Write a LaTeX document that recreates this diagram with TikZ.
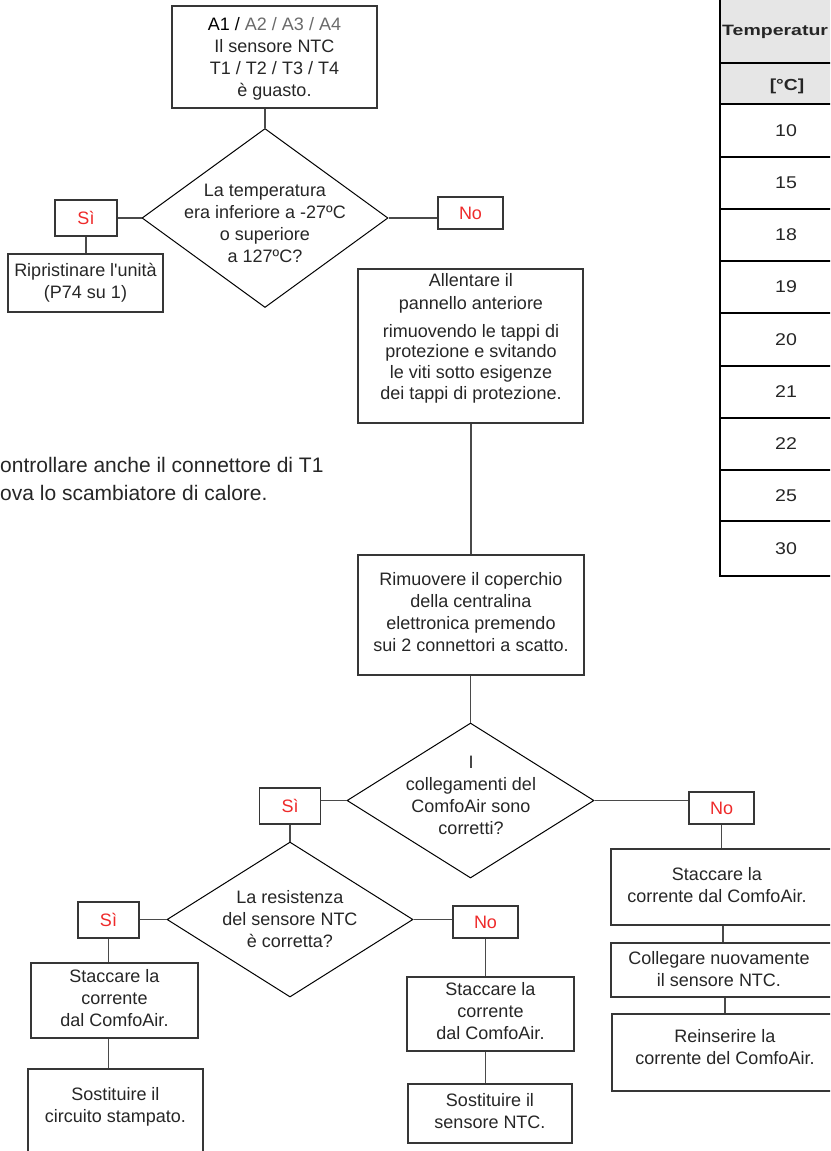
\documentclass[tikz,border=0pt]{standalone}
\usepackage{fontspec}
\usepackage{graphicx}
\setmainfont{Liberation Sans}[Ligatures=TeXOff]
\usetikzlibrary{shapes.geometric}
\definecolor{ink}{HTML}{262626}
\definecolor{edge}{HTML}{363636}
\definecolor{wirec}{HTML}{4A4A4A}
\definecolor{answer}{HTML}{EE2A2A}
\definecolor{codegray}{HTML}{6A6A6A}
\definecolor{headfill}{HTML}{E6E6E6}

\begin{document}
\begin{tikzpicture}[x=1pt,y=-1pt,
  txt/.style={font=\fontsize{18}{22}\selectfont, text=ink, align=center, inner sep=0pt},
  box/.style={draw=edge, line width=1.4pt, inner sep=0pt},
  choice/.style={diamond, draw=black, line width=1pt, inner sep=0pt},
  tag/.style={box, font=\fontsize{18}{22}\selectfont, text=answer},
  wire/.style={draw=wirec, line width=1.3pt},
  tabrule/.style={draw=black, line width=1.8pt},
  cell/.style={font=\fontsize{17}{20}\selectfont, text=ink, inner sep=0pt}]
\useasboundingbox (0,0) rectangle (830,1151);
\clip (0,0) rectangle (830,1151);

% ---------- resistance table (right) ----------
\fill[headfill] (720,0) rectangle (835,104);
\foreach \yy in {63,104,157,209,261,313,366,418,470,521}
  \draw[tabrule] (720,\yy) -- (835,\yy);
\draw[tabrule, line width=2.2pt] (720,0) -- (720,576) -- (835,576);
\node[cell, anchor=west, font=\fontsize{15}{18}\selectfont\bfseries] (thead) at (722,32) {\scalebox{1.3}[1]{Temperatur}};
\node[cell, font=\fontsize{16}{20}\selectfont\bfseries] (tunit) at (787,86) {\scalebox{1.2}[1]{[°C]}};
\foreach \v/\yy [count=\i] in {10/131,15/183,18/235,19/287,20/340,21/392,22/444,25/496,30/549}
  \node[cell] (tv\i) at (786,\yy) {\scalebox{1.15}[1]{\v}};

% ---------- side note ----------
\node[txt, font=\fontsize{21}{28}\selectfont, align=left, anchor=west] (note) at (0,479)
  {ontrollare anche il connettore di T1\\ova lo scambiatore di calore.};

% ---------- first stage ----------
\node[box, minimum width=205pt, minimum height=102pt] (fault) at (274.5,57) {};
\node[txt] (faultt) at (274.5,58.5)
  {{\color{black}A1 /} {\color{codegray}A2 / A3 / A4}\\Il sensore NTC\\T1 / T2 / T3 / T4\\è guasto.};

\node[choice, minimum width=246pt, minimum height=179pt] (range) at (265,218) {};
\node[txt] (ranget) at (265,223.5)
  {La temperatura\\era inferiore a -27ºC\\o superiore\\a 127ºC?};

\node[tag, minimum width=62pt, minimum height=36pt] (yes1) at (86,218) {Sì};
\node[tag, minimum width=65pt, minimum height=32pt] (no1) at (470.5,213) {No};
\node[box, txt, draw=edge, minimum width=155pt, minimum height=58pt] (reset) at (85.5,283)
  {Ripristinare l'unità\\(P74 su 1)};

\draw[wire] (range.north) -- (range.north |- fault.south);
\draw[wire] (range.west) -- (range.west -| yes1.east);
\draw[wire] (range.east) -- (range.east -| no1.west);
\draw[wire] (yes1.south) -- (yes1.south |- reset.north);

% ---------- opening the unit ----------
\node[box, minimum width=225pt, minimum height=154pt] (panel) at (470.5,346) {};
\node[txt] (panelt) at (471,338)
  {Allentare il\\[1pt]pannello anteriore\\[6pt]rimuovendo le tappi di\\[-1.5pt]protezione e svitando\\[-1.5pt]le viti sotto esigenze\\[-1pt]dei tappi di protezione.};

\node[box, minimum width=226pt, minimum height=120pt] (cover) at (471,615) {};
\node[txt] (covert) at (471,612)
  {Rimuovere il coperchio\\della centralina\\elettronica premendo\\sui 2 connettori a scatto.};

\draw[wire] (panel.south -| 471,0) -- (cover.north -| 471,0);

% ---------- connection check ----------
\node[choice, minimum width=247pt, minimum height=155pt] (wiring) at (470.5,800.5) {};
\node[txt] (wiringt) at (471,795)
  {I\\collegamenti del\\ComfoAir sono\\corretti?};
\draw[wire] (cover.south -| wiring.north) -- (wiring.north);

\node[tag, minimum width=61pt, minimum height=36pt] (yes2) at (290,806) {Sì};
\node[tag, minimum width=65pt, minimum height=32pt] (no2) at (721.5,808) {No};
\draw[wire] (wiring.west) -- (wiring.west -| yes2.east);
\draw[wire] (wiring.east) -- (wiring.east -| no2.west);

% ---------- resistance check ----------
\node[choice, minimum width=246pt, minimum height=155pt] (ohms) at (290,919.5) {};
\node[txt] (ohmst) at (290,919)
  {La resistenza\\del sensore NTC\\è corretta?};
\draw[wire] (yes2.south) -- (yes2.south |- ohms.north);

\node[tag, minimum width=61pt, minimum height=36pt] (yes3) at (108.5,920) {Sì};
\node[tag, minimum width=65pt, minimum height=32pt] (no3) at (485.5,922) {No};
\draw[wire] (ohms.west) -- (ohms.west -| yes3.east);
\draw[wire] (ohms.east) -- (ohms.east -| no3.west);

% left branch: replace the board
\node[box, minimum width=167pt, minimum height=75pt] (offL) at (114.5,1000.5) {};
\node[txt] (offLt) at (114.5,998.5) {Staccare la\\corrente\\dal ComfoAir.};
\node[box, minimum width=175pt, minimum height=100pt] (board) at (115.5,1119) {};
\node[txt] (boardt) at (115.5,1106.5) {Sostituire il\\circuito stampato.};
\draw[wire] (yes3.south) -- (yes3.south |- offL.north);
\draw[wire] (offL.south -| yes3) -- (board.north -| yes3);

% middle branch: replace the sensor
\node[box, minimum width=167pt, minimum height=74pt] (offM) at (490.5,1014) {};
\node[txt] (offMt) at (490.5,1011.5) {Staccare la\\corrente\\dal ComfoAir.};
\node[box, minimum width=164pt, minimum height=59pt] (sensor) at (490,1113.5) {};
\node[txt] (sensort) at (490,1111) {Sostituire il\\sensore NTC.};
\draw[wire] (no3.south) -- (no3.south |- offM.north);
\draw[wire] (offM.south -| no3) -- (sensor.north -| no3);

% right branch: reconnect the sensor
\node[box, minimum width=229pt, minimum height=76pt] (offR) at (725.5,887) {};
\node[txt] (offRt) at (717,885) {Staccare la\\corrente dal ComfoAir.};
\node[box, minimum width=229pt, minimum height=54pt] (plug) at (725.5,970) {};
\node[txt] (plugt) at (719,969) {Collegare nuovamente\\il sensore NTC.};
\node[box, minimum width=228pt, minimum height=77pt] (power) at (726,1052.5) {};
\node[txt] (powert) at (725,1047.5) {Reinserire la\\corrente del ComfoAir.};
\draw[wire] (no2.south) -- (no2.south |- offR.north);
\draw[wire] (offR.south -| 723,0) -- (plug.north -| 723,0);
\draw[wire] (plug.south -| 725,0) -- (power.north -| 725,0);
\end{tikzpicture}
\end{document}
